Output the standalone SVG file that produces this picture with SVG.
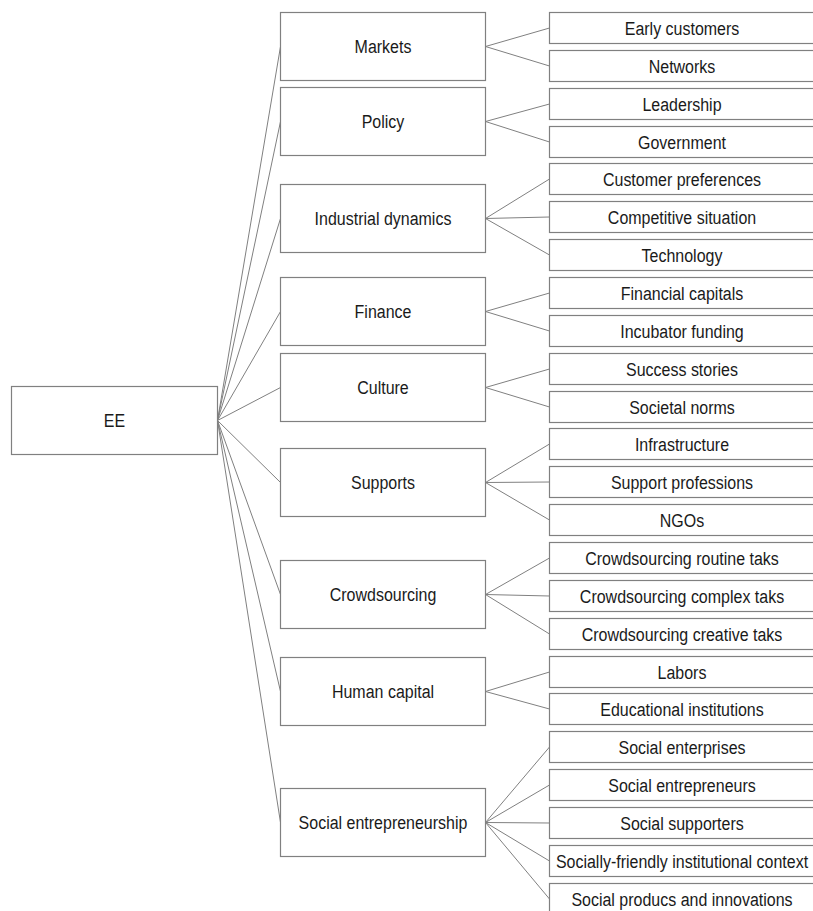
<svg xmlns="http://www.w3.org/2000/svg" width="813" height="911" viewBox="0 0 813 911">
<style>
.box{fill:#fff;stroke:#808080;stroke-width:1.2}
.lbl{font-family:"Liberation Sans",Arial,sans-serif;font-size:18.6px;fill:#1a1a1a;text-anchor:middle}
.conn line{stroke:#808080;stroke-width:1}
</style>
<rect width="813" height="911" fill="#fff"/>
<g id="connectors" class="conn">
<line x1="217.5" y1="420.5" x2="280.5" y2="46.5"/>
<line x1="217.5" y1="420.5" x2="280.5" y2="121.5"/>
<line x1="217.5" y1="420.5" x2="280.5" y2="218.5"/>
<line x1="217.5" y1="420.5" x2="280.5" y2="311.5"/>
<line x1="217.5" y1="420.5" x2="280.5" y2="387.5"/>
<line x1="217.5" y1="420.5" x2="280.5" y2="482.5"/>
<line x1="217.5" y1="420.5" x2="280.5" y2="594.5"/>
<line x1="217.5" y1="420.5" x2="280.5" y2="691.5"/>
<line x1="217.5" y1="420.5" x2="280.5" y2="822.5"/>
<line x1="485.5" y1="46.5" x2="549.5" y2="28"/>
<line x1="485.5" y1="46.5" x2="549.5" y2="66"/>
<line x1="485.5" y1="121.5" x2="549.5" y2="104"/>
<line x1="485.5" y1="121.5" x2="549.5" y2="142"/>
<line x1="485.5" y1="218.5" x2="549.5" y2="179"/>
<line x1="485.5" y1="218.5" x2="549.5" y2="217"/>
<line x1="485.5" y1="218.5" x2="549.5" y2="255"/>
<line x1="485.5" y1="311.5" x2="549.5" y2="293"/>
<line x1="485.5" y1="311.5" x2="549.5" y2="331"/>
<line x1="485.5" y1="387.5" x2="549.5" y2="369"/>
<line x1="485.5" y1="387.5" x2="549.5" y2="407"/>
<line x1="485.5" y1="482.5" x2="549.5" y2="444"/>
<line x1="485.5" y1="482.5" x2="549.5" y2="482"/>
<line x1="485.5" y1="482.5" x2="549.5" y2="520"/>
<line x1="485.5" y1="594.5" x2="549.5" y2="558"/>
<line x1="485.5" y1="594.5" x2="549.5" y2="596"/>
<line x1="485.5" y1="594.5" x2="549.5" y2="634"/>
<line x1="485.5" y1="691.5" x2="549.5" y2="672"/>
<line x1="485.5" y1="691.5" x2="549.5" y2="709"/>
<line x1="485.5" y1="822.5" x2="549.5" y2="747"/>
<line x1="485.5" y1="822.5" x2="549.5" y2="785"/>
<line x1="485.5" y1="822.5" x2="549.5" y2="823"/>
<line x1="485.5" y1="822.5" x2="549.5" y2="861"/>
<line x1="485.5" y1="822.5" x2="549.5" y2="899"/>
</g>
<g id="ee"><rect class="box" x="11.5" y="386.5" width="206" height="68"/><text class="lbl" transform="translate(114.5,427) scale(0.86,1)">EE</text></g>
<g id="markets"><rect class="box" x="280.5" y="12.5" width="205" height="68"/><text class="lbl" transform="translate(383,53) scale(0.86,1)">Markets</text></g>
<g id="policy"><rect class="box" x="280.5" y="87.5" width="205" height="68"/><text class="lbl" transform="translate(383,128) scale(0.86,1)">Policy</text></g>
<g id="industrial"><rect class="box" x="280.5" y="184.5" width="205" height="68"/><text class="lbl" transform="translate(383,225) scale(0.86,1)">Industrial dynamics</text></g>
<g id="finance"><rect class="box" x="280.5" y="277.5" width="205" height="68"/><text class="lbl" transform="translate(383,318) scale(0.86,1)">Finance</text></g>
<g id="culture"><rect class="box" x="280.5" y="353.5" width="205" height="68"/><text class="lbl" transform="translate(383,394) scale(0.86,1)">Culture</text></g>
<g id="supports"><rect class="box" x="280.5" y="448.5" width="205" height="68"/><text class="lbl" transform="translate(383,489) scale(0.86,1)">Supports</text></g>
<g id="crowdsourcing"><rect class="box" x="280.5" y="560.5" width="205" height="68"/><text class="lbl" transform="translate(383,601) scale(0.86,1)">Crowdsourcing</text></g>
<g id="human"><rect class="box" x="280.5" y="657.5" width="205" height="68"/><text class="lbl" transform="translate(383,698) scale(0.86,1)">Human capital</text></g>
<g id="social"><rect class="box" x="280.5" y="788.5" width="205" height="68"/><text class="lbl" transform="translate(383,829) scale(0.86,1)">Social entrepreneurship</text></g>
<g id="leaf0"><rect class="box" x="549.5" y="12.5" width="266" height="31"/><text class="lbl" transform="translate(682,34.5) scale(0.86,1)">Early customers</text></g>
<g id="leaf1"><rect class="box" x="549.5" y="50.5" width="266" height="31"/><text class="lbl" transform="translate(682,72.5) scale(0.86,1)">Networks</text></g>
<g id="leaf2"><rect class="box" x="549.5" y="88.5" width="266" height="31"/><text class="lbl" transform="translate(682,110.5) scale(0.86,1)">Leadership</text></g>
<g id="leaf3"><rect class="box" x="549.5" y="126.5" width="266" height="31"/><text class="lbl" transform="translate(682,148.5) scale(0.86,1)">Government</text></g>
<g id="leaf4"><rect class="box" x="549.5" y="163.5" width="266" height="31"/><text class="lbl" transform="translate(682,185.5) scale(0.86,1)">Customer preferences</text></g>
<g id="leaf5"><rect class="box" x="549.5" y="201.5" width="266" height="31"/><text class="lbl" transform="translate(682,223.5) scale(0.86,1)">Competitive situation</text></g>
<g id="leaf6"><rect class="box" x="549.5" y="239.5" width="266" height="31"/><text class="lbl" transform="translate(682,261.5) scale(0.86,1)">Technology</text></g>
<g id="leaf7"><rect class="box" x="549.5" y="277.5" width="266" height="31"/><text class="lbl" transform="translate(682,299.5) scale(0.86,1)">Financial capitals</text></g>
<g id="leaf8"><rect class="box" x="549.5" y="315.5" width="266" height="31"/><text class="lbl" transform="translate(682,337.5) scale(0.86,1)">Incubator funding</text></g>
<g id="leaf9"><rect class="box" x="549.5" y="353.5" width="266" height="31"/><text class="lbl" transform="translate(682,375.5) scale(0.86,1)">Success stories</text></g>
<g id="leaf10"><rect class="box" x="549.5" y="391.5" width="266" height="31"/><text class="lbl" transform="translate(682,413.5) scale(0.86,1)">Societal norms</text></g>
<g id="leaf11"><rect class="box" x="549.5" y="428.5" width="266" height="31"/><text class="lbl" transform="translate(682,450.5) scale(0.86,1)">Infrastructure</text></g>
<g id="leaf12"><rect class="box" x="549.5" y="466.5" width="266" height="31"/><text class="lbl" transform="translate(682,488.5) scale(0.86,1)">Support professions</text></g>
<g id="leaf13"><rect class="box" x="549.5" y="504.5" width="266" height="31"/><text class="lbl" transform="translate(682,526.5) scale(0.86,1)">NGOs</text></g>
<g id="leaf14"><rect class="box" x="549.5" y="542.5" width="266" height="31"/><text class="lbl" transform="translate(682,564.5) scale(0.86,1)">Crowdsourcing routine taks</text></g>
<g id="leaf15"><rect class="box" x="549.5" y="580.5" width="266" height="31"/><text class="lbl" transform="translate(682,602.5) scale(0.86,1)">Crowdsourcing complex taks</text></g>
<g id="leaf16"><rect class="box" x="549.5" y="618.5" width="266" height="31"/><text class="lbl" transform="translate(682,640.5) scale(0.86,1)">Crowdsourcing creative taks</text></g>
<g id="leaf17"><rect class="box" x="549.5" y="656.5" width="266" height="31"/><text class="lbl" transform="translate(682,678.5) scale(0.86,1)">Labors</text></g>
<g id="leaf18"><rect class="box" x="549.5" y="693.5" width="266" height="31"/><text class="lbl" transform="translate(682,715.5) scale(0.86,1)">Educational institutions</text></g>
<g id="leaf19"><rect class="box" x="549.5" y="731.5" width="266" height="31"/><text class="lbl" transform="translate(682,753.5) scale(0.86,1)">Social enterprises</text></g>
<g id="leaf20"><rect class="box" x="549.5" y="769.5" width="266" height="31"/><text class="lbl" transform="translate(682,791.5) scale(0.86,1)">Social entrepreneurs</text></g>
<g id="leaf21"><rect class="box" x="549.5" y="807.5" width="266" height="31"/><text class="lbl" transform="translate(682,829.5) scale(0.86,1)">Social supporters</text></g>
<g id="leaf22"><rect class="box" x="549.5" y="845.5" width="266" height="31"/><text class="lbl" transform="translate(682,867.5) scale(0.86,1)">Socially-friendly institutional context</text></g>
<g id="leaf23"><rect class="box" x="549.5" y="883.5" width="266" height="31"/><text class="lbl" transform="translate(682,905.5) scale(0.86,1)">Social producs and innovations</text></g>
</svg>
